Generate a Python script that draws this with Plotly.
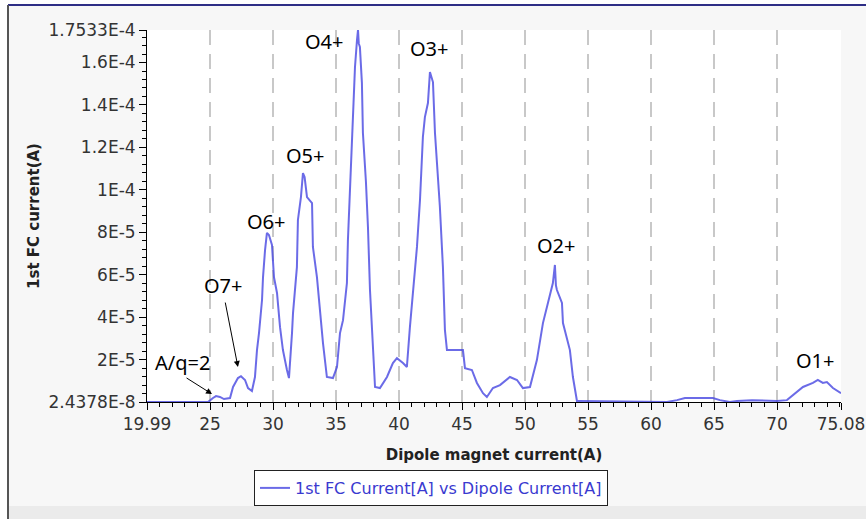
import numpy as np
import plotly.graph_objects as go

# Dipole magnet current (A)
dipole_current = [
    19.99, 24.83, 25.23, 25.47, 25.78, 26.10, 26.58, 26.82, 27.21, 27.45, 27.77, 28.01, 28.32,
    28.56, 28.72, 28.88, 29.12, 29.20, 29.36, 29.51, 29.67, 29.91, 30.07, 30.31, 30.55, 30.78,
    31.10, 31.26, 31.50, 31.58, 31.89, 31.97, 32.21, 32.37, 32.50, 32.69, 33.09, 33.16, 33.48,
    33.72, 33.96, 34.27, 34.75, 35.07, 35.31, 35.55, 35.86, 35.94, 36.10, 36.26, 36.34, 36.50,
    36.66, 36.74, 36.80, 36.89, 37.05, 37.13, 37.37, 37.53, 37.69, 37.93, 38.09, 38.48, 39.04,
    39.51, 39.83, 40.31, 40.62, 40.86, 41.10, 41.42, 41.66, 41.89, 42.05, 42.29, 42.45, 42.60,
    42.69, 42.85, 43.09, 43.24, 43.48, 43.64, 43.80, 45.07, 45.23, 45.78, 46.18, 46.66, 46.97,
    47.45, 48.01, 48.80, 49.36, 49.83, 50.39, 50.94, 51.42, 51.97, 52.21, 52.37, 52.45, 52.53,
    52.93, 53.01, 53.32, 53.56, 53.80, 54.12, 54.30, 58.56, 61.26, 62.06, 62.69, 64.91, 65.47,
    66.26, 66.82, 68.01, 69.99, 70.79, 71.26, 72.06, 72.85, 73.24, 73.64, 73.96, 74.44, 75.08,
]
# 1st FC current in units of 1E-5 A
fc_current_e5 = [
    0.0024, 0.0024, 0.19, 0.28, 0.24, 0.14, 0.19, 0.71, 1.13, 1.22, 1.04, 0.66, 0.52,
    1.18, 2.45, 3.25, 4.81, 5.89, 7.16, 7.97, 7.87, 7.40, 5.89, 5.14, 3.53, 2.45,
    1.51, 1.13, 3.25, 4.19, 6.36, 8.58, 9.66, 10.79, 10.60, 9.66, 9.38, 7.31, 5.89,
    4.19, 2.78, 1.18, 1.13, 1.65, 3.25, 3.86, 5.61, 7.64, 9.85, 12.35, 13.90, 15.79,
    17.06, 17.533, 16.90, 16.73, 15.04, 12.68, 10.37, 8.25, 5.28, 2.45, 0.71, 0.66, 1.18,
    1.84, 2.07, 1.84, 1.65, 3.53, 5.14, 7.31, 9.52, 12.49, 13.43, 14.09, 15.55, 15.30,
    15.08, 12.68, 10.60, 9.19, 6.36, 3.39, 2.45, 2.45, 1.60, 1.51, 0.90, 0.42, 0.24,
    0.66, 0.80, 1.18, 1.04, 0.66, 0.71, 1.98, 3.72, 5.14, 5.61, 6.46, 5.50, 5.28,
    4.67, 3.72, 2.92, 2.45, 1.18, 0.05, 0.05, 0.0024, 0.0024, 0.09, 0.19, 0.19, 0.09,
    0.0024, 0.05, 0.09, 0.05, 0.09, 0.33, 0.71, 0.90, 1.04, 0.90, 0.94, 0.66, 0.42,
]

x_tickvals = [19.99, 25, 30, 35, 40, 45, 50, 55, 60, 65, 70, 75.08]
x_ticktext = ["19.99", "25", "30", "35", "40", "45", "50", "55", "60", "65", "70", "75.08"]
y_tickvals = [2.4378e-8, 2e-5, 4e-5, 6e-5, 8e-5, 1e-4, 1.2e-4, 1.4e-4, 1.6e-4, 1.7533e-4]
y_ticktext = ["2.4378E-8", "2E-5", "4E-5", "6E-5", "8E-5", "1E-4", "1.2E-4", "1.4E-4", "1.6E-4", "1.7533E-4"]

# peak labels: text, x (A), y (A)
peak_labels = ["O4+", "O3+", "O5+", "O6+", "O7+", "A/q=2", "O2+", "O1+"]
peak_x = [34.1, 42.45, 32.55, 29.5, 26.05, 22.81, 52.5, 73.05]
peak_y = [17.01e-5, 16.66e-5, 11.64e-5, 8.51e-5, 5.51e-5, 1.885e-5, 7.40e-5, 1.98e-5]

# arrows: (tail x, tail y, head x, head y)
arrow_tail_x = [26.18, 23.01]
arrow_tail_y = [4.76e-5, 1.18e-5]
arrow_head_x = [27.21, 25.15]
arrow_head_y = [1.65e-5, 0.377e-5]

W, H = 866, 519
L, R, T, B = 147, 866 - 841, 30, 519 - 402
PW, PH = W - L - R, H - T - B


def px_x(px):
    return (px - L) / PW


def px_y(py):
    return (H - B - py) / PH


fc_current = np.array(fc_current_e5) * 1e-5

fig = go.Figure()
fig.add_trace(go.Scatter(
    x=dipole_current, y=fc_current, mode="lines",
    line=dict(color="rgba(70,70,225,0.8)", width=2),
    name="1st FC Current[A] vs Dipole Current[A]",
))

annotations = []
for t, xv, yv in zip(peak_labels, peak_x, peak_y):
    annotations.append(dict(x=xv, y=yv, xref="x", yref="y", text=t, showarrow=False,
                            font=dict(family="Noto Sans", size=20, color="#000000")))
for tx, ty, hx, hy in zip(arrow_tail_x, arrow_tail_y, arrow_head_x, arrow_head_y):
    annotations.append(dict(x=hx, y=hy, ax=tx, ay=ty, xref="x", yref="y", axref="x", ayref="y",
                            text="", showarrow=True, arrowhead=2, arrowsize=1.2, arrowwidth=1,
                            arrowcolor="#000000"))

shapes = [
    dict(type="rect", xref="paper", yref="paper", x0=px_x(0), x1=px_x(W), y0=px_y(0), y1=px_y(5),
         fillcolor="white", line=dict(width=0), layer="below"),
    dict(type="rect", xref="paper", yref="paper", x0=px_x(0), x1=px_x(8), y0=px_y(0), y1=px_y(H),
         fillcolor="white", line=dict(width=0), layer="below"),
    dict(type="rect", xref="paper", yref="paper", x0=px_x(8), x1=px_x(W), y0=px_y(506), y1=px_y(H),
         fillcolor="#ebebeb", line=dict(width=0), layer="below"),
    dict(type="line", xref="paper", yref="paper", x0=px_x(8), x1=px_x(W), y0=px_y(5), y1=px_y(5),
         line=dict(color="#2e2e86", width=2)),
    dict(type="line", xref="paper", yref="paper", x0=px_x(8), x1=px_x(8), y0=px_y(5), y1=px_y(H),
         line=dict(color="#555555", width=2)),
]

fig.update_layout(
    width=W, height=H,
    margin=dict(l=L, r=R, t=T, b=B, autoexpand=False),
    paper_bgcolor="#f7f7f7", plot_bgcolor="white",
    showlegend=True,
    legend=dict(x=px_x(254), y=px_y(470), xanchor="left", yanchor="top", orientation="h",
                bgcolor="white", bordercolor="#222222", borderwidth=1,
                font=dict(family="DejaVu Sans", size=16, color="#3a3ad0")),
    annotations=annotations,
    shapes=shapes,
    xaxis=dict(
        range=[19.99, 75.08], tickvals=x_tickvals, ticktext=x_ticktext,
        automargin=False,
        showline=True, linecolor="black", linewidth=1,
        ticks="outside", ticklen=7, tickcolor="black",
        minor=dict(dtick=1, tick0=20, ticks="outside", ticklen=4, tickcolor="black", showgrid=False),
        showgrid=True, gridcolor="#c8c8c8", gridwidth=2, griddash="15px,9px",
        zeroline=False,
        tickfont=dict(family="DejaVu Sans", size=17, color="#333333"),
        title=dict(text="Dipole magnet current(A)", standoff=16,
                   font=dict(family="DejaVu Sans", size=15, color="#222222", weight="bold")),
    ),
    yaxis=dict(
        range=[2.4378e-8, 1.7533e-4], tickvals=y_tickvals, ticktext=y_ticktext,
        automargin=False,
        showline=True, linecolor="black", linewidth=1,
        ticks="outside", ticklen=7, tickcolor="black",
        minor=dict(dtick=4e-6, tick0=0, ticks="outside", ticklen=4, tickcolor="black", showgrid=False),
        showgrid=False, zeroline=False,
        tickfont=dict(family="DejaVu Sans", size=17, color="#333333"),
        title=dict(text="1st FC current(A)", standoff=5,
                   font=dict(family="DejaVu Sans", size=15, color="#222222", weight="bold")),
    ),
)

fig.write_html("out.html")
